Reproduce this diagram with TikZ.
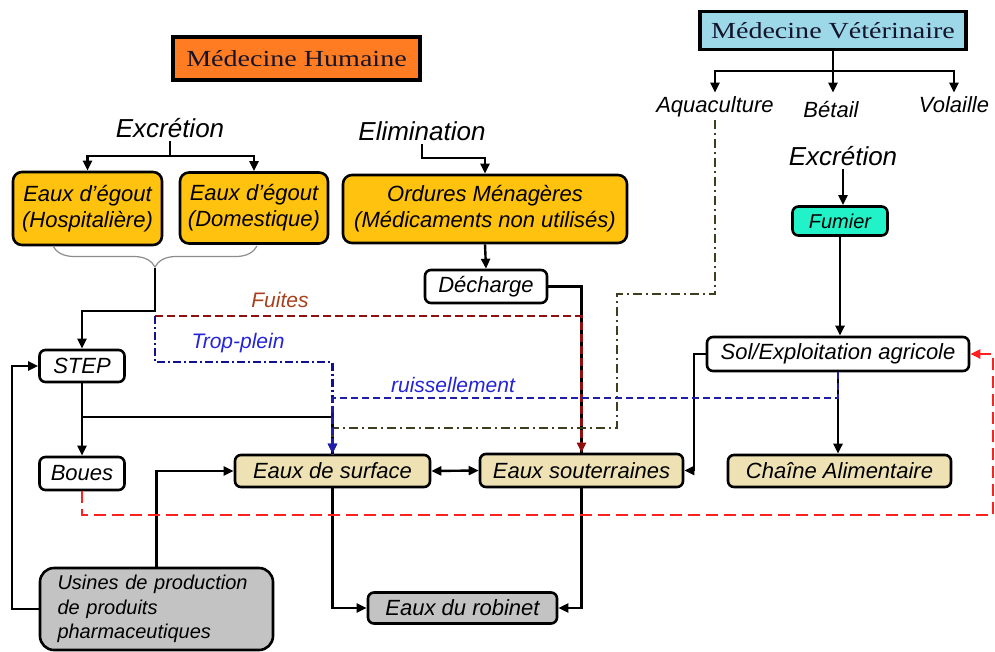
\documentclass[tikz,border=0pt]{standalone}
\usepackage{fontspec}
\setmainfont{Liberation Sans}
\newfontfamily\ttlfont[FakeStretch=1.22]{Liberation Serif}
\usetikzlibrary{arrows.meta,decorations.pathreplacing,calc}
\definecolor{orangeT}{HTML}{FF7C22}
\definecolor{blueT}{HTML}{9DD8E9}
\definecolor{goldF}{HTML}{FFC20E}
\definecolor{wheatF}{HTML}{EEE2B5}
\definecolor{grayF}{HTML}{C3C3C3}
\definecolor{aquaF}{HTML}{22F2C8}
\definecolor{fuiteL}{HTML}{8E1010}
\definecolor{fuiteT}{HTML}{A8401C}
\definecolor{tropL}{HTML}{101090}
\definecolor{labB}{HTML}{2424D8}
\definecolor{ruisL}{HTML}{1E1EA8}
\definecolor{oliveL}{HTML}{3E3E1E}
\definecolor{redL}{HTML}{FF2020}
\definecolor{ttlT}{HTML}{14142A}
\begin{document}
\begin{tikzpicture}[x=1pt,y=-1pt,
  bx/.style={draw, line width=2.6pt, rounded corners=6pt, inner sep=0pt, align=center,
    font=\fontsize{22}{26}\selectfont\itshape},
  ttl/.style={draw, line width=3.2pt, inner sep=0pt, font=\ttlfont\fontsize{23}{26}\selectfont, text=ttlT},
  lbl/.style={inner sep=0.3333em, font=\fontsize{22}{26}\selectfont\itshape},
  mlbl/.style={inner sep=0.3333em, font=\fontsize{21}{24}\selectfont\itshape},
  big/.style={inner sep=0.3333em, font=\fontsize{26}{30}\selectfont\itshape},
  ln/.style={line width=2.4pt, draw=black},
  tip/.style={-{Triangle[length=10pt,width=9pt]}},
  arr/.style={ln, tip},
  darr/.style={ln, {Triangle[length=10pt,width=9pt]}-{Triangle[length=10pt,width=9pt]}},
  fuite/.style={line width=2.2pt, draw=fuiteL, dash pattern=on 8pt off 4pt, tip},
  trop/.style={line width=2.2pt, draw=tropL, dash pattern=on 8pt off 3pt on 2pt off 3pt, tip},
  ruis/.style={line width=2.2pt, draw=ruisL, dash pattern=on 7pt off 4pt, tip},
  oliv/.style={line width=2.2pt, draw=oliveL, dash pattern=on 9pt off 4pt on 2pt off 4pt},
  reddash/.style={line width=2.7pt, draw=redL, dash pattern=on 12pt off 6pt, tip},
  bracest/.style={draw=black!45, line width=1.2pt, decorate, decoration={brace, amplitude=21pt, mirror}}
]
\useasboundingbox (0,0) rectangle (995,651);

% titles
\node[ttl, fill=orangeT, minimum width=247pt, minimum height=43pt] (mh) at (296.5,58.5) {Médecine Humaine};
\node[ttl, fill=blueT, minimum width=266pt, minimum height=38pt] (mv) at (833,30.5) {Médecine Vétérinaire};

% veterinary side
\node[lbl, anchor=base] (aqua) at (715,112) {Aquaculture};
\node[lbl, anchor=base] (betail) at (831,117) {Bétail};
\node[lbl, anchor=base] (vol) at (954,112) {Volaille};
\node[big, anchor=base] (exR) at (843,165) {Excrétion};
\node[bx, fill=aquaF, minimum width=95pt, minimum height=29pt, font=\fontsize{20}{24}\selectfont\itshape] (fumier) at (840,221) {Fumier};
\node[bx, fill=white, minimum width=262pt, minimum height=34pt] (sol) at (838,354) {Sol/Exploitation agricole};
\node[bx, fill=wheatF, minimum width=223pt, minimum height=32pt] (chaine) at (839.5,471) {Chaîne Alimentaire};

% human side
\node[big, anchor=base] (exL) at (170,137) {Excrétion};
\node[bx, fill=goldF, rounded corners=9pt, minimum width=149pt, minimum height=73pt] (hosp) at (87.5,208.5) {Eaux d’égout\\(Hospitalière)};
\node[bx, fill=goldF, rounded corners=9pt, minimum width=148pt, minimum height=71pt] (dom) at (254,208) {Eaux d’égout\\(Domestique)};
\node[big, anchor=base] (elim) at (422,140) {Elimination};
\node[bx, fill=goldF, rounded corners=9pt, minimum width=284pt, minimum height=68pt] (ord) at (485,209) {Ordures Ménagères\\(Médicaments non utilisés)};
\node[bx, fill=white, minimum width=122pt, minimum height=33pt] (dech) at (486,286.5) {Décharge};
\node[bx, fill=white, minimum width=85pt, minimum height=32pt] (step) at (82,366) {STEP};
\node[bx, fill=white, minimum width=85pt, minimum height=33pt] (boues) at (82,473.5) {Boues};
\node[bx, fill=wheatF, minimum width=195pt, minimum height=32pt] (surf) at (332.5,471) {Eaux de surface};
\node[bx, fill=wheatF, minimum width=203pt, minimum height=33pt] (sout) at (581.5,470.5) {Eaux souterraines};
\node[bx, fill=grayF, minimum width=189pt, minimum height=31pt] (rob) at (462.5,608) {Eaux du robinet};
\node[bx, fill=grayF, rounded corners=14pt, minimum width=233pt, minimum height=82pt, align=left, text width=198pt,
  font=\fontsize{20}{24.5}\selectfont\itshape] (usines) at (156.5,609) {Usines de production\\de produits\\pharmaceutiques};

% labels on flows
\node[mlbl, anchor=base, text=fuiteT] (fuites) at (280,307) {Fuites};
\node[mlbl, anchor=base, text=labB] (tropl) at (238,348) {Trop-plein};
\node[mlbl, anchor=base, text=labB] (ruisl) at (453,392) {ruissellement};

% veterinary connectors
\path (mv.south) ++(0,20) coordinate (mvj);
\draw[ln] (mv.south) -- (mvj);
\draw[arr] (mvj) -| (aqua.north);
\draw[arr] (mvj) -| (vol.north);
\draw[arr] (mvj) -- (mvj |- aqua.north);
\draw[arr] (exR.south) -- (exR.south |- fumier.north);
\draw[arr] (fumier.south) -- (fumier.south |- sol.north);
\draw[arr] (sol.south) -- (sol.south |- chaine.north);
\draw[arr] (sol.west) -- ++(-12,0) |- (sout.east);

% human connectors
\draw[ln] (exL.south) -- ++(0,15) coordinate (exj);
\draw[arr] (exj) -| (hosp.north);
\draw[arr] (exj) -| (dom.north);
\draw[bracest] (53,246) -- (257,246);
\coordinate (bt) at (155,268);
\coordinate (jn) at (155,311);
\coordinate (fj) at (155,316);
\draw[arr] (bt) -- (jn) -| (step.north);
\draw[arr] (elim.south) -- ++(0,14) -| (ord.north);
\draw[arr] (ord.south) -- (dech.north);
\draw[ln] (dech.east) -| (sout.north);
\draw[arr] (step.south) -- (boues.north);
\draw[ln] (step.south |- 0,417) -| (surf.north);
\draw[arr] (usines.north) |- (surf.west);
\draw[arr] (usines.west) -- ++(-27,0) |- (step.west);
\draw[darr] (surf.east) -- (sout.west);
\draw[arr] (surf.south) |- (rob.west);
\draw[arr] (sout.south) |- (rob.east);

% dashed flows
\draw[oliv] (aqua.south) |- (617,294) |- (332.5,428) -- (surf.north);
\draw[fuite] (fj) -| (sout.north);
\draw[trop] (fj) |- (250,362) -| (surf.north);
\draw[ruis] (sol.south) -- ++(0,26) -| (surf.north);
\draw[reddash] (boues.south) |- (993,515) |- (sol.east);
\end{tikzpicture}
\end{document}
